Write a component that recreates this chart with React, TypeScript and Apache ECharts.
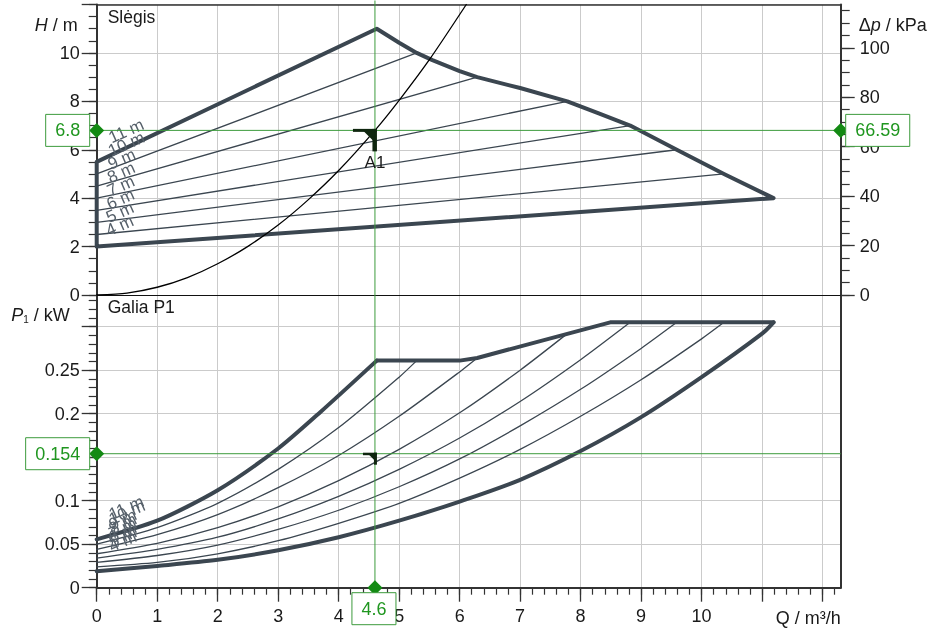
import React, { useEffect, useRef } from "react";
import * as echarts from "echarts";

// ---------------- axes ----------------
const Q_MAX = 12.3;
const H_MAX = 12;
const P_MAX = 0.3364;
const qTickLabels = [0, 1, 2, 3, 4, 5, 6, 7, 8, 9, 10];
const qMajorTicks = [0, 1, 2, 3, 4, 5, 6, 7, 8, 9, 10, 11, 12];
const hTickLabels = [0, 2, 4, 6, 8, 10];
const hMajorTicks = [0, 2, 4, 6, 8, 10, 12];
const dpTickLabels = [0, 20, 40, 60, 80, 100];
const pTickLabels = [0, 0.05, 0.1, 0.15, 0.2, 0.25];
const pMajorTicks = [0, 0.05, 0.1, 0.15, 0.2, 0.25, 0.3];

// ---------------- operating point ----------------
const opName = "A1";
const opQ = 4.6;
const opH = 6.8;
const opDp = 66.59;
const opP = 0.154;
const DP_MAX = (H_MAX * opDp) / opH;

// ---------------- head (Slėgis) ----------------
const settingNames = ["4 m", "5 m", "6 m", "7 m", "8 m", "9 m", "10 m", "11 m"];
const headAtZero = [2.0, 2.5, 3.0, 3.5, 4.0, 4.5, 5.0, 5.5];
const headEndQ = [11.19, 10.37, 9.59, 8.82, 7.78, 6.29, 5.29, 4.63];
const headEndH = [4.0, 5.0, 6.0, 7.0, 8.0, 9.0, 10.0, 11.0];
const maxHeadQ = [4.63, 5.0, 5.29, 5.55, 6.0, 6.29, 7.0, 7.78, 8.3, 8.82, 9.59, 10.37, 11.19];
const maxHeadH = [11.0, 10.42, 10.0, 9.7, 9.25, 9.0, 8.55, 8.0, 7.5, 7.0, 6.0, 5.0, 4.0];
const systemQ = [0, 0.5, 1, 1.5, 2, 2.5, 3, 3.5, 4, 4.6, 5, 5.5, 6.11];
const systemH = [0, 0.08, 0.32, 0.72, 1.29, 2.01, 2.89, 3.94, 5.14, 6.8, 8.04, 9.72, 12.0];

// ---------------- power (Galia P1) ----------------
const power4m = [[0, 0.019], [1, 0.025], [2, 0.032], [3, 0.043], [4, 0.058], [5, 0.077], [6, 0.099], [7, 0.124], [8, 0.157], [9, 0.196], [10, 0.242], [11, 0.292], [11.19, 0.305]];
const power5m = [[0, 0.024], [1, 0.029], [2, 0.039], [3, 0.054], [4, 0.074], [5, 0.097], [6, 0.126], [7, 0.159], [8, 0.197], [9, 0.239], [10, 0.286], [10.37, 0.305]];
const power6m = [[0, 0.029], [1, 0.037], [2, 0.049], [3, 0.067], [4, 0.089], [5, 0.116], [6, 0.148], [7, 0.186], [8, 0.228], [9, 0.275], [9.59, 0.305]];
const power7m = [[0, 0.034], [1, 0.044], [2, 0.058], [3, 0.079], [4, 0.105], [5, 0.136], [6, 0.172], [7, 0.214], [8, 0.262], [8.82, 0.305]];
const power8m = [[0, 0.039], [1, 0.051], [2, 0.069], [3, 0.093], [4, 0.123], [5, 0.159], [6, 0.201], [7, 0.25], [7.78, 0.292]];
const power9m = [[0, 0.044], [1, 0.061], [2, 0.084], [3, 0.115], [4, 0.152], [5, 0.197], [6, 0.248], [6.29, 0.264]];
const power10m = [[0, 0.05], [1, 0.069], [2, 0.097], [3, 0.136], [4, 0.184], [5, 0.242], [5.29, 0.261]];
const power11m = [[0, 0.0556], [1, 0.077], [2, 0.112], [3, 0.16], [3.7, 0.202], [4.63, 0.261]];
const powerLimit = [[4.63, 0.261], [6.0, 0.261], [6.29, 0.264], [8.49, 0.305], [11.19, 0.305]];
const powerCurves = [power4m, power5m, power6m, power7m, power8m, power9m, power10m, power11m];

// ---------------- styles ----------------
const FONT = '"Liberation Sans", Arial, Helvetica, sans-serif';
const DARK = "#3b4650";
const AXIS = "#333333";
const GRID = "#cbcbcb";
const TXT = "#1a1a1a";
const GREEN_LINE = "#3d9b3d";
const GREEN_TXT = "#1f961f";
const GREEN_MARK = "#138a13";
const LABEL_GRAY = "#56606a";

const steps = (a: number, b: number, s: number, d: number) => {
  const out: number[] = [];
  const n = Math.round((b - a) / s);
  for (let i = 0; i <= n; i++) out.push(Number((a + i * s).toFixed(d)));
  return out;
};

const lbl = { fontFamily: FONT, fontSize: 18, color: TXT };

function buildOption(): any {
  const lineSeries = (data: number[][], xi: number, yi: number, width: number, color = DARK, smooth: any = false) => ({
    type: "line",
    xAxisIndex: xi,
    yAxisIndex: yi,
    data,
    symbol: "none",
    showSymbol: false,
    silent: true,
    smooth,
    lineStyle: { color, width, cap: "round", join: "round" },
    z: 2,
  });

  const series: any[] = [];
  for (let i = 1; i <= 6; i++) {
    series.push(lineSeries([[0, headAtZero[i]], [headEndQ[i], headEndH[i]]], 0, 0, 1.3));
  }
  const envelope: number[][] = [[0, headAtZero[0]], [0, headAtZero[7]]];
  maxHeadQ.forEach((q, i) => envelope.push([q, maxHeadH[i]]));
  envelope.push([0, headAtZero[0]]);
  series.push(lineSeries(envelope, 0, 0, 4));
  series.push(lineSeries(systemQ.map((q, i) => [q, systemH[i]]), 0, 0, 1.3, "#000000", 0.25));

  for (let i = 1; i <= 6; i++) series.push(lineSeries(powerCurves[i], 2, 4, 1.3, DARK, 0.25));
  series.push(lineSeries(power4m, 2, 4, 4, DARK, 0.3));
  series.push(lineSeries(power11m, 2, 4, 4, DARK, 0.25));
  series.push(lineSeries(powerLimit, 2, 4, 4));

  const noAxis = { show: false };
  return {
    animation: false,
    textStyle: { fontFamily: FONT },
    grid: [
      { left: 96.7, right: 90.3, top: 4.5, height: 290.5, outerBoundsMode: "none", containLabel: false },
      { left: 96.7, right: 90.3, top: 295, height: 292.7, outerBoundsMode: "none", containLabel: false },
    ],
    xAxis: [
      {
        gridIndex: 0, type: "value", min: 0, max: Q_MAX, interval: 1, position: "bottom",
        axisLine: { show: true, onZero: false, lineStyle: { color: "#111", width: 1 } },
        axisTick: noAxis, axisLabel: noAxis,
        splitLine: { show: true, lineStyle: { color: GRID, width: 1 } },
      },
      {
        gridIndex: 0, type: "value", min: 0, max: Q_MAX, position: "top",
        axisLine: { show: true, onZero: false, lineStyle: { color: AXIS, width: 1.5 } },
        axisTick: noAxis, axisLabel: noAxis, splitLine: noAxis,
      },
      {
        gridIndex: 1, type: "value", min: 0, max: Q_MAX, interval: 1, position: "bottom",
        axisLine: { show: true, onZero: false, lineStyle: { color: AXIS, width: 2 } },
        axisTick: { show: true, customValues: qMajorTicks, length: 14, lineStyle: { color: AXIS, width: 1.3 } },
        axisLabel: { show: true, customValues: qTickLabels, margin: 19, ...lbl },
        splitLine: { show: true, lineStyle: { color: GRID, width: 1 } },
      },
      {
        gridIndex: 1, type: "value", min: 0, max: Q_MAX, position: "bottom",
        axisLine: { show: false, onZero: false },
        axisTick: { show: true, customValues: steps(0, 12.2, 0.2, 1), length: 7, lineStyle: { color: AXIS, width: 1.2 } },
        axisLabel: noAxis, splitLine: noAxis,
      },
    ],
    yAxis: [
      {
        gridIndex: 0, type: "value", min: 0, max: H_MAX, interval: 2, position: "left",
        axisLine: { show: true, onZero: false, lineStyle: { color: AXIS, width: 2 } },
        axisTick: { show: true, customValues: hMajorTicks, length: 15, lineStyle: { color: AXIS, width: 1.3 } },
        axisLabel: { show: true, customValues: hTickLabels, margin: 17, ...lbl },
        splitLine: { show: true, lineStyle: { color: GRID, width: 1 } },
      },
      {
        gridIndex: 0, type: "value", min: 0, max: H_MAX, position: "left",
        axisLine: { show: false, onZero: false },
        axisTick: { show: true, customValues: steps(0, 12, 0.5, 1), length: 8, lineStyle: { color: AXIS, width: 1.2 } },
        axisLabel: noAxis, splitLine: noAxis,
      },
      {
        gridIndex: 0, type: "value", min: 0, max: DP_MAX, position: "right",
        axisLine: { show: true, onZero: false, lineStyle: { color: AXIS, width: 2 } },
        axisTick: { show: true, customValues: dpTickLabels, length: 14, lineStyle: { color: AXIS, width: 1.3 } },
        axisLabel: { show: true, customValues: dpTickLabels, margin: 19, ...lbl },
        splitLine: noAxis,
      },
      {
        gridIndex: 0, type: "value", min: 0, max: DP_MAX, position: "right",
        axisLine: { show: false, onZero: false },
        axisTick: { show: true, customValues: steps(0, 115, 5, 0), length: 9, lineStyle: { color: AXIS, width: 1.2 } },
        axisLabel: noAxis, splitLine: noAxis,
      },
      {
        gridIndex: 1, type: "value", min: 0, max: P_MAX, interval: 0.05, position: "left",
        axisLine: { show: true, onZero: false, lineStyle: { color: AXIS, width: 2 } },
        axisTick: { show: true, customValues: pMajorTicks, length: 15, lineStyle: { color: AXIS, width: 1.3 } },
        axisLabel: {
          show: true, customValues: pTickLabels, margin: 17, ...lbl,
          formatter: (v: number) => String(Number(Number(v).toFixed(2))),
        },
        splitLine: { show: true, lineStyle: { color: GRID, width: 1 } },
      },
      {
        gridIndex: 1, type: "value", min: 0, max: P_MAX, position: "left",
        axisLine: { show: false, onZero: false },
        axisTick: { show: true, customValues: steps(0, 0.33, 0.01, 2), length: 8, lineStyle: { color: AXIS, width: 1.2 } },
        axisLabel: noAxis, splitLine: noAxis,
      },
      {
        gridIndex: 1, type: "value", min: 0, max: P_MAX, position: "right",
        axisLine: { show: true, onZero: false, lineStyle: { color: AXIS, width: 2 } },
        axisTick: noAxis, axisLabel: noAxis, splitLine: noAxis,
      },
    ],
    series,
  };
}

function measure(text: string, size: number) {
  const c = document.createElement("canvas").getContext("2d");
  if (!c) return text.length * size * 0.55;
  c.font = `${size}px ${FONT}`;
  return c.measureText(text).width;
}

function buildGraphics(P: (q: number, h: number) => number[], B: (q: number, p: number) => number[]) {
  const g: any[] = [];
  const left = P(0, 0)[0];
  const right = P(Q_MAX, 0)[0];
  const topY = P(0, H_MAX)[1];
  const midY = P(0, 0)[1];
  const botY = B(0, 0)[1];
  const [ox, oy] = P(opQ, opH);
  const [bx, by] = B(opQ, opP);
  const vx = ox;

  const gl = (x1: number, y1: number, x2: number, y2: number) => ({
    type: "line", z: 30, silent: true,
    shape: { x1, y1, x2, y2 },
    style: { stroke: GREEN_LINE, lineWidth: 1 },
  });
  g.push(gl(left, oy, right, oy));
  g.push(gl(left, by, right, by));
  g.push(gl(vx, topY - 4, vx, botY));

  const dia = (x: number, y: number) => ({
    type: "polygon", z: 40, silent: true,
    shape: { points: [[x, y - 7.5], [x + 7.5, y], [x, y + 7.5], [x - 7.5, y]] },
    style: { fill: GREEN_MARK },
  });
  g.push(dia(left, oy), dia(right, oy), dia(left, by), dia(vx, botY));

  const box = (text: string, cx: number, cy: number) => {
    const w = measure(text, 18) + 19;
    const h = 32;
    g.push({
      type: "rect", z: 50, silent: true,
      shape: { x: cx - w / 2, y: cy - h / 2, width: w, height: h },
      style: { fill: "#ffffff", stroke: GREEN_LINE, lineWidth: 1 },
    });
    g.push({
      type: "text", z: 51, silent: true, x: cx, y: cy,
      style: { text, fontSize: 18, fontFamily: FONT, fill: GREEN_TXT, textAlign: "center", textVerticalAlign: "middle" },
    });
  };
  const wH = measure(String(opH), 18) + 19;
  box(String(opH), left - 7 - wH / 2, oy);
  const wDp = measure(opDp.toFixed(2), 18) + 19;
  box(opDp.toFixed(2), right + 5 + wDp / 2, oy);
  const wP = measure(String(opP), 18) + 19;
  box(String(opP), left - 7 - wP / 2, by);
  box(String(opQ), vx - 1, botY + 5 + 16);

  const MARK = "#0f260f";
  const poly = (pts: number[][]) => ({ type: "polygon", z: 35, silent: true, shape: { points: pts }, style: { fill: MARK } });
  g.push(poly([[ox - 22, oy - 1.5], [ox + 2, oy - 1.5], [ox + 2, oy + 1.5], [ox - 22, oy + 1.5]]));
  g.push(poly([[ox - 2.5, oy - 1.5], [ox + 2, oy - 1.5], [ox + 2, oy + 21], [ox - 2.5, oy + 21]]));
  g.push(poly([[ox - 12, oy], [ox, oy], [ox, oy + 12]]));
  g.push({
    type: "text", z: 35, silent: true, x: ox, y: oy + 32,
    style: { text: opName, fontSize: 17, fontFamily: FONT, fill: TXT, textAlign: "center", textVerticalAlign: "middle" },
  });
  g.push(poly([[bx - 12, by - 1], [bx + 2, by - 1], [bx + 2, by + 1.5], [bx - 12, by + 1.5]]));
  g.push(poly([[bx - 1, by - 1], [bx + 2, by - 1], [bx + 2, by + 11], [bx - 1, by + 11]]));
  g.push(poly([[bx - 7, by], [bx, by], [bx, by + 7]]));

  const rot = (24 * Math.PI) / 180;
  settingNames.forEach((name, i) => {
    const [hx, hy] = P(0, headAtZero[i]);
    g.push({
      type: "text", z: 20, silent: true, x: hx + 10 + 0.4 * i, y: hy - (15 + 1.2 * i), rotation: rot,
      style: { text: name, fontSize: 17, fontFamily: FONT, fill: LABEL_GRAY, textAlign: "left", textVerticalAlign: "middle" },
    });
    const [px, py] = B(0, powerCurves[i][0][1]);
    g.push({
      type: "text", z: 20, silent: true, x: px + 13, y: py - 24, rotation: rot,
      style: { text: name, fontSize: 17, fontFamily: FONT, fill: LABEL_GRAY, textAlign: "left", textVerticalAlign: "middle" },
    });
  });

  g.push({
    type: "text", z: 20, silent: true, x: left + 11, y: topY + 12,
    style: { text: "Slėgis", fontSize: 17.5, fontFamily: FONT, fill: TXT, textAlign: "left", textVerticalAlign: "middle" },
  });
  g.push({
    type: "text", z: 20, silent: true, x: left + 11, y: midY + 12,
    style: { text: "Galia P1", fontSize: 17.5, fontFamily: FONT, fill: TXT, textAlign: "left", textVerticalAlign: "middle" },
  });

  const rich = (extra: any = {}) => ({ fontSize: 18, fontFamily: FONT, fill: TXT, ...extra });
  g.push({
    type: "text", z: 20, silent: true, x: left - 19, y: topY + 20,
    style: {
      text: "{i|H} / m", fontSize: 18, fontFamily: FONT, fill: TXT, textAlign: "right", textVerticalAlign: "middle",
      rich: { i: rich({ fontStyle: "italic" }) },
    },
  });
  g.push({
    type: "text", z: 20, silent: true, x: right + 18, y: topY + 20,
    style: {
      text: "Δ{i|p} / kPa", fontSize: 18, fontFamily: FONT, fill: TXT, textAlign: "left", textVerticalAlign: "middle",
      rich: { i: rich({ fontStyle: "italic" }) },
    },
  });
  g.push({
    type: "text", z: 20, silent: true, x: left - 27, y: midY + 20,
    style: {
      text: "{i|P}{s|1} / kW", fontSize: 18, fontFamily: FONT, fill: TXT, textAlign: "right", textVerticalAlign: "middle",
      rich: { i: rich({ fontStyle: "italic" }), s: rich({ fontSize: 10, verticalAlign: "bottom" }) },
    },
  });
  g.push({
    type: "text", z: 20, silent: true, x: right, y: botY + 30,
    style: { text: "Q / m³/h", fontSize: 18, fontFamily: FONT, fill: TXT, textAlign: "right", textVerticalAlign: "middle" },
  });
  return g;
}

export default function App() {
  const ref = useRef<HTMLDivElement>(null);
  useEffect(() => {
    if (!ref.current) return;
    const chart = echarts.init(ref.current, null, { renderer: "svg" });
    chart.setOption(buildOption());
    const P = (q: number, h: number) => chart.convertToPixel({ xAxisIndex: 0, yAxisIndex: 0 } as any, [q, h]) as number[];
    const B = (q: number, p: number) => chart.convertToPixel({ xAxisIndex: 2, yAxisIndex: 4 } as any, [q, p]) as number[];
    chart.setOption({ graphic: buildGraphics(P, B) });
    return () => chart.dispose();
  }, []);
  return <div ref={ref} style={{ position: "fixed", left: 0, top: 0, width: 931, height: 630 }} />;
}
